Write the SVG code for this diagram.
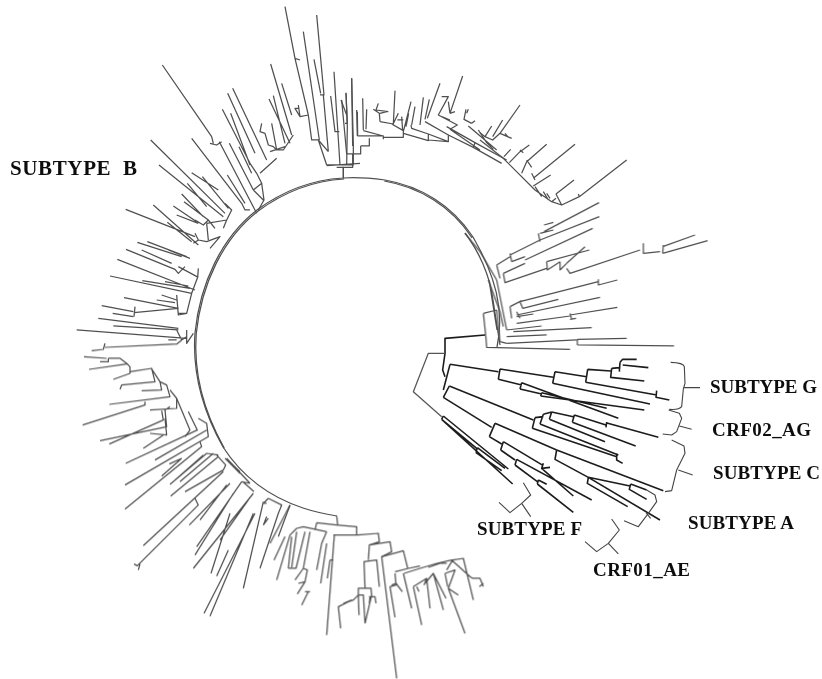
<svg xmlns="http://www.w3.org/2000/svg" width="822" height="679" viewBox="0 0 822 679">
<style>
path{fill:none;stroke:#505050;stroke-width:1.25;vector-effect:non-scaling-stroke;stroke-linejoin:round}
.d path{stroke:#1c1c1c;stroke-width:1.6}
.b path{stroke:#444;stroke-width:1.1}
text{font-family:"Liberation Serif","Times New Roman",serif;font-weight:bold;fill:#111;font-size:19px;white-space:pre}
</style>
<defs><filter id="s" x="0" y="0" width="1" height="1" filterUnits="objectBoundingBox"><feGaussianBlur stdDeviation="0.3"/></filter>
<path id="arc" d="M497 347C505 310 495 275 473 237C452 205 420 186 385 180C370 178 355 177 343 178C310 180 280 193 257 210C222 237 200 283 195 333C192 375 205 415 223 447C243 478 270 497 303 508C315 512 325 514 337 516"/></defs>
<rect width="822" height="679" fill="#fff"/>
<g id="tree" filter="url(#s)">
<g id="backbone">
<use href="#arc"/>
<path transform="translate(1.2 1)" d="M343 178C310 180 280 193 257 210C222 237 200 283 195 333C192 375 205 415 223 447"/>
<path transform="translate(-0.8 1)" d="M473 237C452 205 420 186 385 180"/>
<path d="M465 233C478 250 490 275 493 300L500 345M489 280L497 330"/>
</g>
<g id="clade-upper-1" transform="translate(340 70) scale(.33333)">
<path d="M10 325V292M-10 292H38V252M20 252H62V228M38 228L35 25M62 228H88V205M52 198L50 120M52 198H130V208M20 252L5 90M15 160H22L18 68M70 180L68 85M78 178L80 118M70 182L130 198"/>
<path d="M130 202H190V182L155 162M120 155L160 162L165 62M120 155L118 130L100 118M115 100L108 120L145 125M120 130L140 125M158 165L175 130M172 150L190 150M188 182L185 140M190 185L213 95M198 170L206 130M215 165L225 110M190 190L265 212V192L215 175L213 165M240 165L250 82M255 148L268 88M255 155L325 195V215L265 192M265 210L325 215M300 40L262 145"/>
<path d="M325 195L400 232L405 218L320 170M305 80H325L295 135L352 165L330 178M330 130L368 18M330 130L345 125M325 95L330 130M305 140L330 150M400 232L485 280M405 218L500 270M330 178L420 240M378 118L372 148L395 160M380 130L385 118M395 160L405 152M385 168L470 240M415 180L440 218L460 238"/>
</g>
<g id="clade-upper-2" transform="translate(480 90) scale(.33333)">
<path d="M120 45L60 130M68 90L38 140M35 108L15 140M60 130L95 145M75 130L85 142M0 150L70 205L115 250L165 300L215 335L245 345M0 128L15 140L38 150L60 130M92 178L72 200M148 165L120 185L88 218M120 180L130 188M200 163L140 215L125 250M140 210L155 232M285 163L160 265M155 250L165 270M212 255L160 288M165 290L185 320M282 270L228 312M190 305L205 330M200 310L210 325M228 312L245 345L298 320M228 325L215 335M295 312L298 320L440 210"/>
</g>
<g id="clade-upper-right" transform="translate(340 60) scale(.33333)">
<path d="M375 520L420 575L470 660M445 660L480 755L490 800M430 760L470 750M430 760L437 825M437 825L440 862L690 868M470 750L480 845L500 850M470 660L500 810"/>
<path d="M470 615L510 590M510 580L515 605M510 585L600 540M595 520L600 545M600 520L640 510M612 495L640 487M612 515L777 428M600 540L778 470M470 615L480 655M515 605L555 590M490 640L495 668L620 625M490 640L555 610M555 600L758 505M620 605L748 570M620 605L622 630L660 605M660 605V630L680 610M680 610L735 560M680 625L690 640L900 570M910 550V580L960 575M970 555L968 580M968 560L1065 525M968 580L1103 542"/>
<path d="M775 658V675L832 660M540 725L775 665M540 725L548 745L655 718M510 740L545 722M510 740L515 775M530 765L780 712M530 755L540 775M530 770L580 762M530 790L690 768M690 760L695 778M690 765L832 742M690 778L708 775M500 810L605 798M520 815L755 803M500 830L620 825M500 850L710 840M712 838V855M712 838L860 835M712 855L1002 858"/>
</g>
<g id="clade-upper-left" transform="translate(60 0) scale(.33333)">
<path d="M850 535V500M800 497L900 490M675 20L705 175L720 180M705 175L745 345M730 95L778 420M770 45L792 285H780M762 178L782 280M715 325H705L720 350L745 345M715 315L720 350M745 345L755 420H775L800 495M775 420L805 455M805 455L790 285M800 495H835M822 215L840 495M812 288L825 395H838M843 300L860 345M858 280L862 380L860 495M875 235L880 435V495H840M892 335L893 405"/>
<path d="M632 192L695 405M665 250L695 345M627 297L690 430M640 287L675 430M635 370L650 450M605 370L600 395L615 400L625 435L640 440L650 450H670L700 405M630 455L675 440M518 265L620 480M503 280L585 460M487 328L570 490M512 340L570 495M537 440L575 520M508 430L580 570M570 490L590 520L605 550L580 570M600 520L650 475M605 550L612 600L595 630M580 570L610 600"/>
<path d="M307 195L455 410M450 430L470 435L485 425M455 410L460 430M478 425L590 640M395 415L545 610L555 630H570M502 525L555 610M272 420L495 640M297 495L490 650M395 518L475 570M427 530L505 625M382 550L440 620M365 582L430 650M372 605L445 660M340 618L410 665M350 645L415 670M495 610L515 630L500 660L440 670M500 660L490 685M405 660L430 675L445 660L465 685"/>
<path d="M197 628L405 710M280 615L415 735M322 667L395 725M405 700L415 720L400 730M415 720L440 725L480 710L450 745M440 670L445 720M262 725L380 770M232 727L365 770M245 750L335 790M198 748L345 808L355 820L375 800M325 750L390 775M355 800L415 832M172 778L405 870M150 828L395 880M415 805L413 832L395 880L380 940H355M247 842L390 865M315 845L385 858M305 885L350 900M290 900L345 908M192 893L355 925M350 885L355 945L380 940"/>
<path d="M125 917L220 935M158 940L220 950M225 920L222 950M222 938L355 925M115 955L355 985M160 978L355 990M50 990L380 1015M380 990V1030L400 1000M325 1020H350M350 990L365 1020L380 1010"/>
</g>
<g id="clade-lower-left" transform="translate(60 340) scale(.33333)">
<path d="M135 10L130 28L95 32M135 22L350 12L365 0M72 50L140 55M145 55H180L200 70L210 80V100L160 118M120 65H145V55M87 88L200 72M210 95L275 85L285 125L185 135L180 148M275 87L300 125L305 150L245 152M300 125L320 135L330 170L148 193M330 150L350 175V205L270 210M255 185V195L68 255M350 175L390 270L375 290M330 200L315 210L320 260L120 302M305 212L310 240L148 312M315 235L320 285L270 280M310 285L250 325"/>
<path d="M385 215L412 270L197 370M415 235L440 250L445 290L195 435M440 270L285 360M420 305L425 320L195 507M365 355L305 408M365 355L328 372M430 345L345 420M440 340L330 433M460 340L360 425M475 350L332 468M490 390L375 455M470 345L497 375L490 390M500 360L540 400M495 355L540 395M440 340L475 345M490 395L250 617M405 475L415 495L232 677L222 672M240 672L235 690"/>
<path d="M510 430L388 555M545 425L410 620M500 435L420 540M545 425L570 430M520 460L405 645M580 460L400 685M548 425L582 455M565 480L480 600M510 520L453 700M505 630L470 708M585 520L432 820M580 520L450 828M610 485L550 745M620 530L610 555M625 475L665 495L655 520L600 685M625 475L610 490H620M690 495L655 590M625 535L610 555M500 355L570 430"/>
</g>
<g id="clade-bottom" transform="translate(270 480) scale(.33333)">
<path d="M60 75L0 190M200 108L203 135M140 128L135 150M140 128L200 135L260 140V165M100 140L170 155M100 140L80 145L60 165M170 155L155 190L140 270M170 190L152 310M105 155L78 265H55M120 155L100 265L112 270L105 305L85 310M45 170L12 240M60 165L20 300M65 170L55 265M80 155L65 262M100 265L75 300M105 305L82 342M115 335L95 375M105 335H120"/>
<path d="M190 165H262L325 160L328 185L298 195L295 240M193 165L170 465M180 240L172 295M190 240H180M298 195L360 185L365 215L335 230L380 595M280 245L320 240L328 320M282 245L285 325H265V345L250 360L235 365L205 380L212 445M285 325H303L305 345L285 430M265 345H280L285 430M265 345L267 405M220 370L245 360M297 350H315L318 370M300 350L298 370"/>
<path d="M335 230L400 212L413 265M375 275L415 265L450 258M375 280L378 315L360 320L375 412M365 315L378 310L397 335M402 280L450 265L500 250L545 240L600 290L608 295H630L640 320M640 310L628 320M400 280L425 385M430 320L455 435M440 320L447 335M430 320L470 295L480 385M470 295L462 315M465 310L490 280L520 390M490 280L528 355M475 262L510 250H530M530 270L548 240L580 235L610 360M525 280L555 270L535 325L585 460M525 280L533 320M535 325L565 345"/>
</g>
<g id="clade-nonb" class="d" transform="translate(400 320) scale(.33333)">
<path d="M255 45L135 55V100L128 150L135 170M150 133L130 210M148 198L130 232"/>
<path style="stroke:#555;stroke-width:1.25" d="M135 100H85L40 215L125 290"/>
<path d="M150 133L295 155M300 147L295 178M300 147L460 172M465 155L458 190M465 155L560 170M563 148L557 187M563 148L632 153M635 145L632 172L733 183M635 145L658 143M660 127L658 155M660 127L668 118H710M668 135L745 143M557 187L770 225M770 212L768 232L808 240M458 190L750 252M295 178L365 195M365 188L360 207M365 188L655 295M360 207L425 222M425 218L422 228M425 218L620 265M422 228L733 270"/>
<path d="M148 198L400 300M405 293L397 325M405 293L430 290M430 283L420 312M430 283L455 276M455 276L448 298M455 276L520 290M523 285L517 307M523 285L618 315M620 306L618 322M618 308L775 352M517 307L707 378M448 298L615 365M420 312L655 405M650 400V420L668 430M397 325L650 410"/>
<path d="M130 232L275 322M285 310L268 350M285 310L470 390L790 512M268 350L305 372M310 365L302 390M310 365L430 437M430 430L425 445L450 442M425 445L520 528M302 390L345 420M350 418L345 435M350 418L575 540M345 435L412 485M415 480L412 492M415 480L440 493M412 492L520 577M470 390L465 418L565 472L780 600M565 472L562 490L683 560M565 472L690 498M692 492L688 508L740 538M692 492L740 510"/>
<path d="M130 288L125 298M130 288L325 447M125 298L230 385M232 383L228 398M232 383L315 445M228 398L305 452M125 298L338 492"/>
</g>
<g id="brackets" class="b" transform="translate(400 320) scale(.33333)">
<path d="M812 127Q850 128 853 140L855 190L850 207L845 260Q838 270 808 268M850 203H900M806 270L838 280L845 295L830 335L815 345L788 342M838 318L875 328M815 360L852 378L855 400L830 450L815 512L795 515M835 450L878 465M740 510L765 525L770 545L745 580L715 620L672 602M738 578L752 595M635 597L658 630L625 670L590 695L555 665M625 670L655 702M370 488L392 525L365 550L330 578L297 547M365 550L392 590"/>
</g>
</g>
<g id="labels" filter="url(#s)">
<text x="10" y="175" textLength="127" lengthAdjust="spacing" style="font-size:21px">SUBTYPE  B</text>
<text x="710" y="393" textLength="107" lengthAdjust="spacing">SUBTYPE G</text>
<text x="712" y="436" textLength="99" lengthAdjust="spacing">CRF02_AG</text>
<text x="713" y="479" textLength="107" lengthAdjust="spacing">SUBTYPE C</text>
<text x="688" y="529" textLength="106" lengthAdjust="spacing">SUBTYPE A</text>
<text x="477" y="535" textLength="105" lengthAdjust="spacing">SUBTYPE F</text>
<text x="593" y="576" textLength="97" lengthAdjust="spacing">CRF01_AE</text>
</g>
</svg>
